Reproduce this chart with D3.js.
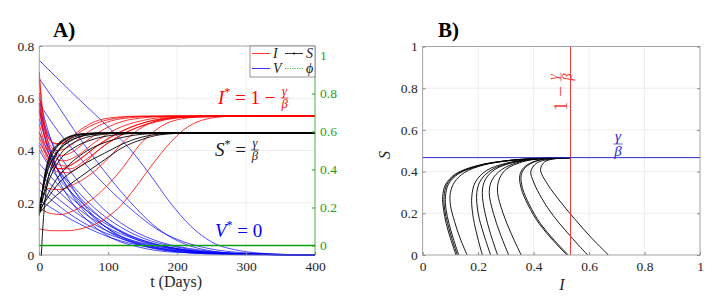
<!DOCTYPE html>
<html lang="en">
<head>
<meta charset="UTF-8" />
<title>SIV trajectories</title>
<script src="https://d3js.org/d3.v7.min.js"></script>
<style>
  body { margin: 0; background: #fff; }
  svg text { font-family: "Liberation Serif", serif !important; }
</style>
</head>
<body>
<div id="chart"></div>
<script>
// ---- data ----
const tTicks = [0, 100, 200, 300, 400];
const leftTicks = [0, 0.2, 0.4, 0.6, 0.8];
const rightTicks = [0, 0.2, 0.4, 0.6, 0.8, 1];
const unitTicks = [0, 0.2, 0.4, 0.6, 0.8, 1];

const iStar = 0.533, sStar = 0.467;

// I(t) curves, [t, value]
const iCurves = [
  [[0,0.70],[3,0.6],[8,0.5],[15,0.44],[25,0.425],[40,0.44],[60,0.48],[80,0.51],[110,0.527],[150,0.532],[400,0.533]],
  [[0,0.67],[4,0.56],[10,0.47],[20,0.43],[30,0.425],[50,0.455],[75,0.495],[100,0.518],[140,0.53],[400,0.533]],
  [[0,0.62],[5,0.52],[12,0.44],[25,0.40],[40,0.41],[60,0.45],[90,0.5],[120,0.522],[170,0.531],[400,0.533]],
  [[0,0.58],[6,0.48],[15,0.41],[30,0.38],[45,0.39],[70,0.44],[100,0.49],[140,0.522],[200,0.532],[400,0.533]],
  [[0,0.55],[8,0.45],[20,0.38],[35,0.36],[55,0.38],[80,0.43],[110,0.48],[150,0.515],[200,0.53],[400,0.533]],
  [[0,0.5],[10,0.41],[25,0.35],[40,0.34],[60,0.37],[90,0.43],[120,0.475],[160,0.512],[220,0.53],[400,0.533]],
  [[0,0.47],[12,0.38],[28,0.33],[45,0.33],[70,0.37],[100,0.43],[130,0.475],[170,0.51],[230,0.53],[400,0.533]],
  [[0,0.45],[12,0.37],[25,0.32],[40,0.315],[60,0.34],[90,0.41],[120,0.46],[160,0.505],[220,0.529],[400,0.533]],
  [[0,0.42],[15,0.35],[30,0.33],[50,0.35],[80,0.41],[110,0.46],[150,0.505],[200,0.527],[400,0.533]],
  [[0,0.28],[12,0.255],[28,0.25],[50,0.27],[75,0.31],[100,0.37],[125,0.44],[150,0.49],[180,0.52],[230,0.531],[400,0.533]],
  [[0,0.18],[15,0.16],[30,0.155],[50,0.17],[75,0.21],[100,0.27],[120,0.33],[145,0.42],[165,0.47],[190,0.51],[230,0.528],[300,0.533],[400,0.533]],
  [[0,0.1],[20,0.093],[40,0.093],[60,0.1],[90,0.13],[115,0.18],[140,0.26],[165,0.35],[190,0.43],[210,0.48],[235,0.515],[270,0.53],[320,0.533],[400,0.533]]
];

// S(t) curves
const sCurves = [
  [[0,0.15],[4,0.23],[8,0.3],[15,0.37],[25,0.415],[40,0.447],[60,0.462],[90,0.467],[400,0.467]],
  [[0,0.16],[4,0.24],[8,0.31],[15,0.38],[25,0.42],[40,0.45],[60,0.463],[85,0.467],[400,0.467]],
  [[0,0.17],[5,0.25],[10,0.32],[18,0.38],[30,0.425],[45,0.452],[65,0.464],[95,0.467],[400,0.467]],
  [[0,0.18],[5,0.25],[10,0.31],[20,0.37],[32,0.41],[50,0.443],[75,0.461],[110,0.467],[400,0.467]],
  [[0,0.19],[6,0.26],[12,0.32],[22,0.38],[35,0.42],[55,0.45],[80,0.463],[120,0.467],[400,0.467]],
  [[0,0.16],[6,0.23],[12,0.29],[22,0.35],[35,0.4],[55,0.437],[80,0.457],[120,0.466],[400,0.467]],
  [[0,0.17],[8,0.24],[18,0.31],[30,0.365],[50,0.41],[75,0.44],[105,0.458],[150,0.466],[400,0.467]],
  [[0,0.16],[10,0.22],[25,0.29],[45,0.35],[70,0.4],[100,0.435],[130,0.455],[170,0.465],[400,0.467]],
  [[0,0.17],[10,0.21],[30,0.28],[60,0.34],[95,0.39],[125,0.43],[155,0.455],[195,0.466],[400,0.467]],
  [[0,0.16],[10,0.19],[30,0.24],[60,0.3],[95,0.365],[120,0.41],[150,0.443],[175,0.46],[210,0.466],[400,0.467]],
  [[3,0],[5,0.1],[8,0.2],[12,0.28],[18,0.34],[28,0.4],[45,0.445],[70,0.463],[100,0.467],[400,0.467]]
];

// V(t) curves
const vCurves = [
  [[0,0.745],[50,0.615],[100,0.49],[130,0.41],[160,0.31],[190,0.2],[220,0.11],[250,0.05],[290,0.017],[340,0.004],[400,0]],
  [[0,0.675],[25,0.58],[50,0.48],[80,0.37],[110,0.27],[140,0.18],[170,0.105],[200,0.055],[240,0.02],[300,0.004],[400,0]],
  [[0,0.6],[10,0.5],[25,0.38],[50,0.25],[75,0.16],[100,0.1],[130,0.055],[170,0.025],[220,0.008],[300,0.001],[400,0]],
  [[0,0.58],[8,0.48],[20,0.37],[45,0.24],[75,0.14],[110,0.075],[150,0.035],[200,0.012],[280,0.002],[400,0]],
  [[0,0.56],[8,0.45],[20,0.34],[45,0.21],[75,0.12],[105,0.065],[145,0.03],[200,0.01],[400,0]],
  [[0,0.58],[20,0.5],[50,0.4],[80,0.31],[110,0.23],[140,0.16],[170,0.1],[200,0.06],[240,0.028],[300,0.008],[400,0]],
  [[0,0.52],[12,0.42],[30,0.31],[55,0.21],[85,0.13],[120,0.07],[160,0.035],[220,0.01],[400,0]],
  [[0,0.47],[15,0.38],[40,0.28],[70,0.19],[100,0.12],[140,0.06],[190,0.025],[260,0.007],[400,0]],
  [[0,0.43],[20,0.35],[50,0.26],[80,0.18],[110,0.12],[150,0.065],[200,0.03],[270,0.008],[400,0]],
  [[0,0.4],[20,0.32],[50,0.23],[85,0.15],[120,0.09],[160,0.048],[210,0.02],[290,0.004],[400,0]],
  [[0,0.35],[20,0.29],[50,0.21],[90,0.13],[130,0.075],[180,0.035],[240,0.012],[320,0.002],[400,0]],
  [[0,0.31],[25,0.25],[55,0.18],[95,0.11],[140,0.06],[190,0.028],[260,0.008],[400,0]],
  [[0,0.28],[25,0.22],[60,0.15],[100,0.09],[150,0.045],[210,0.018],[290,0.004],[400,0]],
  [[0,0.25],[25,0.195],[60,0.13],[100,0.08],[150,0.04],[210,0.015],[300,0.003],[400,0]],
  [[0,0.21],[30,0.16],[65,0.11],[105,0.065],[155,0.032],[220,0.012],[300,0.003],[400,0]],
  [[0,0.55],[15,0.45],[40,0.34],[70,0.24],[100,0.16],[135,0.095],[175,0.05],[230,0.02],[300,0.005],[400,0]]
];

// phi(t) on right axis
const phiCurve = [[0,0],[400,0]];

// phase plane (I, S)
const phaseCurves = [
  [[0.12,0],[0.1,0.08],[0.085,0.15],[0.075,0.22],[0.072,0.28],[0.083,0.34],[0.12,0.39],[0.2,0.43],[0.3,0.452],[0.4,0.462],[0.533,0.467]],
  [[0.125,0],[0.105,0.08],[0.09,0.15],[0.079,0.22],[0.077,0.28],[0.088,0.34],[0.125,0.39],[0.205,0.43],[0.305,0.452],[0.405,0.462],[0.533,0.467]],
  [[0.13,0],[0.11,0.08],[0.095,0.15],[0.084,0.22],[0.082,0.28],[0.093,0.34],[0.13,0.39],[0.21,0.43],[0.31,0.452],[0.41,0.462],[0.533,0.467]],
  [[0.16,0],[0.135,0.08],[0.115,0.16],[0.1,0.24],[0.1,0.3],[0.115,0.35],[0.15,0.395],[0.22,0.432],[0.32,0.455],[0.42,0.464],[0.533,0.467]],
  [[0.215,0],[0.195,0.1],[0.18,0.2],[0.177,0.28],[0.19,0.35],[0.23,0.405],[0.3,0.44],[0.38,0.458],[0.45,0.465],[0.533,0.467]],
  [[0.245,0],[0.22,0.1],[0.2,0.2],[0.195,0.3],[0.21,0.36],[0.25,0.41],[0.32,0.443],[0.4,0.46],[0.533,0.467]],
  [[0.27,0],[0.245,0.1],[0.225,0.2],[0.215,0.3],[0.225,0.36],[0.26,0.41],[0.33,0.445],[0.41,0.461],[0.533,0.467]],
  [[0.31,0],[0.28,0.1],[0.255,0.2],[0.24,0.3],[0.25,0.36],[0.285,0.41],[0.35,0.447],[0.42,0.462],[0.533,0.467]],
  [[0.355,0],[0.32,0.1],[0.29,0.2],[0.27,0.3],[0.275,0.36],[0.3,0.41],[0.36,0.447],[0.43,0.462],[0.533,0.467]],
  [[0.52,0],[0.47,0.07],[0.42,0.15],[0.38,0.24],[0.355,0.32],[0.35,0.38],[0.365,0.42],[0.41,0.452],[0.47,0.464],[0.533,0.467]],
  [[0.525,0],[0.475,0.07],[0.425,0.15],[0.385,0.24],[0.36,0.32],[0.355,0.38],[0.37,0.42],[0.413,0.452],[0.472,0.464],[0.533,0.467]],
  [[0.595,0],[0.56,0.05],[0.52,0.11],[0.47,0.19],[0.43,0.27],[0.4,0.35],[0.39,0.4],[0.41,0.44],[0.46,0.46],[0.533,0.467]],
  [[0.67,0],[0.61,0.08],[0.55,0.17],[0.5,0.25],[0.45,0.34],[0.425,0.41],[0.44,0.447],[0.48,0.462],[0.533,0.467]]
];

// ---- drawing ----
const width = 722, height = 299;
const serif = "Liberation Serif";
const red = "#ff0000", blue = "#0000ff", phiGreen = "#0ca00c", greenTxt = "#22a022";
const axisGray = "#8c8c8c", gridGray = "#e8e8e8";

const svg = d3.select("#chart").append("svg")
  .attr("width", width).attr("height", height);
svg.append("rect").attr("width", width).attr("height", height).attr("fill", "#fff");

// left panel scales
const xL = d3.scaleLinear().domain([0, 400]).range([39.3, 315]);
const yL = d3.scaleLinear().domain([0, 0.8]).range([255, 46]);
const yR = d3.scaleLinear().domain([-0.05, 1.05]).range([255, 46]);
// right panel scales
const xP = d3.scaleLinear().domain([0, 1]).range([422.7, 700]);
const yP = d3.scaleLinear().domain([0, 1]).range([255, 46.5]);

function grid(g, xs, ys, xt, yt) {
  g.append("g").selectAll("line").data(xt).join("line")
    .attr("x1", d => xs(d)).attr("x2", d => xs(d))
    .attr("y1", ys.range()[0]).attr("y2", ys.range()[1])
    .attr("stroke", gridGray).attr("stroke-width", 0.8);
  g.append("g").selectAll("line").data(yt).join("line")
    .attr("y1", d => ys(d)).attr("y2", d => ys(d))
    .attr("x1", xs.range()[0]).attr("x2", xs.range()[1])
    .attr("stroke", gridGray).attr("stroke-width", 0.8);
}

function styleAxis(sel, color) {
  sel.attr("font-family", null).attr("font-size", null);
  sel.select(".domain").remove();
  sel.selectAll(".tick line").attr("stroke", color);
  sel.selectAll(".tick text")
    .style("font-family", serif).style("font-size", "13.5px")
    .attr("fill", color === axisGray ? "#262626" : color);
}

const fmt = d => d === 0 ? "0" : (d === 1 ? "1" : d3.format(".1f")(d));

// ----- panel A -----
const gA = svg.append("g");
grid(gA, xL, yL, tTicks.slice(1, -1), leftTicks.slice(1, -1));

const lineT = d3.line().x(d => xL(d[0])).y(d => yL(d[1])).curve(d3.curveMonotoneX);
const lineR = d3.line().x(d => xL(d[0])).y(d => yR(d[1]));

gA.append("g").selectAll("path").data(vCurves).join("path")
  .attr("d", lineT).attr("fill", "none").attr("stroke", blue).attr("stroke-width", 0.7);
gA.append("g").selectAll("path").data(iCurves).join("path")
  .attr("d", lineT).attr("fill", "none").attr("stroke", red).attr("stroke-width", 0.8);
gA.append("g").selectAll("path").data(sCurves).join("path")
  .attr("d", lineT).attr("fill", "none").attr("stroke", "#000").attr("stroke-width", 0.9);

// axes
gA.append("g").attr("transform", "translate(0,255)")
  .call(d3.axisBottom(xL).tickValues(tTicks).tickSize(-3).tickPadding(6).tickFormat(d3.format("d")))
  .call(s => styleAxis(s, axisGray));
gA.append("g").attr("transform", "translate(39.3,0)")
  .call(d3.axisLeft(yL).tickValues(leftTicks).tickSize(-3).tickPadding(5).tickFormat(fmt))
  .call(s => styleAxis(s, axisGray));
gA.append("g").attr("transform", "translate(315,0)")
  .call(d3.axisRight(yR).tickValues(rightTicks).tickSize(-3).tickPadding(5).tickFormat(fmt))
  .call(s => styleAxis(s, greenTxt));
// box
gA.append("path").attr("d", `M315,46H39.3V255H315`).attr("fill", "none").attr("stroke", axisGray).attr("stroke-width", 0.8);
gA.append("line").attr("x1", 315).attr("x2", 315).attr("y1", 46).attr("y2", 255)
  .attr("stroke", greenTxt).attr("stroke-width", 0.8);

// phi line on the right axis, drawn on top
gA.append("path").datum(phiCurve).attr("d", lineR)
  .attr("fill", "none").style("stroke", phiGreen).style("stroke-width", "1.3px");

gA.append("text").attr("x", xL(200) - 1).attr("y", 287).attr("text-anchor", "middle")
  .attr("font-size", 16).attr("fill", "#262626").text("t (Days)");
gA.append("text").attr("x", 53).attr("y", 37).attr("font-size", 21).attr("font-weight", "bold").text("A)");

// legend
const leg = gA.append("g");
leg.append("rect").attr("x", 250).attr("y", 46).attr("width", 65).attr("height", 31)
  .attr("fill", "#fff").attr("stroke", "#7a7a7a").attr("stroke-width", 0.8);
const legItems = [
  { label: "I", color: red, x: 252, y: 53.5, dash: null },
  { label: "S", color: "#000", x: 285, y: 53.5, dash: null },
  { label: "V", color: blue, x: 252, y: 68.5, dash: null },
  { label: "ϕ", color: "#1fb01f", x: 285, y: 68.5, dash: "1.2,1.2" }
];
legItems.forEach(d => {
  leg.append("line").attr("x1", d.x).attr("x2", d.x + 18).attr("y1", d.y).attr("y2", d.y)
    .attr("stroke", d.color).attr("stroke-width", 0.8).attr("stroke-dasharray", d.dash);
  leg.append("text").attr("x", d.x + 21).attr("y", d.y + 4.5).attr("font-size", 14)
    .attr("font-style", "italic").attr("fill", "#222").text(d.label);
});
leg.append("circle").attr("cx", 294).attr("cy", 53.5).attr("r", 0.9).attr("fill", "#000");

// stacked fraction helper
function frac(g, cx, axisY, num, den, size, color) {
  const w = size * 0.62;
  g.append("line").attr("x1", cx - w / 2).attr("x2", cx + w / 2).attr("y1", axisY).attr("y2", axisY)
    .attr("stroke", color).attr("stroke-width", 0.7);
  g.append("text").attr("x", cx).attr("y", axisY - 3.2).attr("text-anchor", "middle")
    .attr("font-size", size).attr("font-style", "italic").attr("fill", color).text(num);
  g.append("text").attr("x", cx).attr("y", axisY + size * 0.74 + 1).attr("text-anchor", "middle")
    .attr("font-size", size).attr("font-style", "italic").attr("fill", color).text(den);
}

function eqLabel(g, x, y, sym, rest, color, fr) {
  const t = g.append("text").attr("x", x).attr("y", y).attr("font-size", 19).attr("fill", color);
  t.append("tspan").attr("font-style", "italic").text(sym);
  t.append("tspan").attr("font-size", 12).attr("dy", -8).text("*");
  t.append("tspan").attr("dy", 8).text(rest);
  if (fr) {
    const w = t.node().getComputedTextLength();
    frac(g, x + w + 9, y - 6, "γ", "β", 12.5, color);
  }
}
eqLabel(gA, 218, 104, "I", " = 1 − ", red, true);
eqLabel(gA, 215, 156, "S", " = ", "#1a1a1a", true);
eqLabel(gA, 215, 237, "V", " = 0", blue, false);

// ----- panel B -----
const gB = svg.append("g");
grid(gB, xP, yP, unitTicks.slice(1, -1), unitTicks.slice(1, -1));

const lineP = d3.line().x(d => xP(d[0])).y(d => yP(d[1])).curve(d3.curveCatmullRom.alpha(0.5));
gB.append("g").selectAll("path").data(phaseCurves).join("path")
  .attr("d", lineP).attr("fill", "none").attr("stroke", "#000").attr("stroke-width", 0.9);

gB.append("line").attr("x1", xP(iStar)).attr("x2", xP(iStar)).attr("y1", yP(0)).attr("y2", yP(1))
  .attr("stroke", "#f03c3c").attr("stroke-width", 1);
gB.append("line").attr("x1", xP(0)).attr("x2", xP(1)).attr("y1", yP(sStar)).attr("y2", yP(sStar))
  .attr("stroke", "#2a2ad0").attr("stroke-width", 1);

gB.append("g").attr("transform", "translate(0,255)")
  .call(d3.axisBottom(xP).tickValues(unitTicks).tickSize(-3).tickPadding(6).tickFormat(fmt))
  .call(s => styleAxis(s, axisGray));
gB.append("g").attr("transform", "translate(422.7,0)")
  .call(d3.axisLeft(yP).tickValues(unitTicks).tickSize(-3).tickPadding(5).tickFormat(fmt))
  .call(s => styleAxis(s, axisGray));
gB.append("g").attr("transform", "translate(700,0)")
  .call(d3.axisRight(yP).tickValues(unitTicks).tickSize(-3).tickFormat(""))
  .call(s => styleAxis(s, axisGray));
gB.append("rect").attr("x", 422.7).attr("y", 46.5).attr("width", 277.3).attr("height", 208.5)
  .attr("fill", "none").attr("stroke", axisGray).attr("stroke-width", 0.8);

gB.append("text").attr("x", 438).attr("y", 37).attr("font-size", 21).attr("font-weight", "bold").text("B)");
gB.append("text").attr("x", 562).attr("y", 290).attr("text-anchor", "middle")
  .attr("font-size", 16).attr("font-style", "italic").attr("fill", "#262626").text("I");
gB.append("text").attr("transform", "translate(390,155) rotate(-90)").attr("text-anchor", "middle")
  .attr("font-size", 16).attr("font-style", "italic").attr("fill", "#262626").text("S");

// rotated 1 − γ/β
const rot = gB.append("g").attr("transform", "translate(567,111) rotate(-90)");
const rt = rot.append("text").attr("x", 0).attr("y", 0).attr("font-size", 19).attr("fill", "#f03c3c").text("1 − ");
const rw = rt.node().getComputedTextLength();
frac(rot, rw + 9, -6, "γ", "β", 14, "#f03c3c");

// γ/β in blue
frac(gB, 618, 144, "γ", "β", 15, "#2a2ad0");
</script>
</body>
</html>
